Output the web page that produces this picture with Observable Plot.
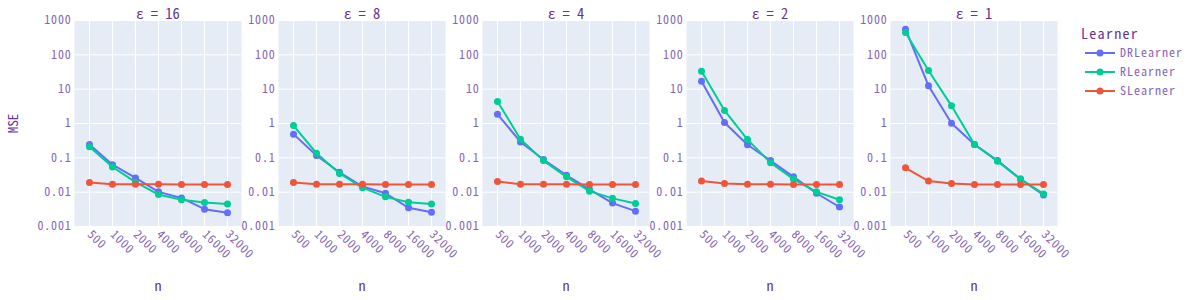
<!DOCTYPE html>
<html>
<head>
<meta charset="utf-8">
<script src="https://cdn.jsdelivr.net/npm/d3@7"></script>
<script src="https://cdn.jsdelivr.net/npm/@observablehq/plot@0.6"></script>
<style>
  html, body { margin: 0; padding: 0; background: #fff; }
  #wrap { position: relative; width: 1200px; height: 300px; }
  #chart { position: absolute; left: 0; top: 0; }
  #wrap svg, #wrap svg text { font-family: "Noto Sans Mono CJK SC", "Noto Sans Mono", "Liberation Mono", "DejaVu Sans Mono", "Courier New", monospace !important; }
  #legend { position: absolute; left: 1078px; top: 20px; }
</style>
</head>
<body>
<div id="wrap">
  <div id="chart"></div>
  <svg id="legend" width="122" height="84"></svg>
</div>
<script>
const ns = [500, 1000, 2000, 4000, 8000, 16000, 32000];
const epsilons = [16, 8, 4, 2, 1];
const learners = ["DRLearner", "RLearner", "SLearner"];
const colors = ["#636efa", "#00cc96", "#ef553b"];
const yTicks = [0.001, 0.01, 0.1, 1, 10, 100, 1000];

// MSE per epsilon (rows: 16, 8, 4, 2, 1), columns follow ns
const drMSE = [
  [0.245, 0.063, 0.026, 0.0102, 0.0068, 0.0032, 0.0025],
  [0.49, 0.117, 0.038, 0.0146, 0.0093, 0.0035, 0.0026],
  [1.86, 0.29, 0.089, 0.031, 0.012, 0.0048, 0.0028],
  [17, 1.07, 0.24, 0.083, 0.028, 0.0093, 0.0037],
  [560, 12.5, 1.02, 0.245, 0.083, 0.024, 0.0083]
];
const rMSE = [
  [0.21, 0.054, 0.0195, 0.0085, 0.006, 0.005, 0.0045],
  [0.87, 0.136, 0.035, 0.0135, 0.0073, 0.0051, 0.0045],
  [4.4, 0.35, 0.083, 0.028, 0.0107, 0.0066, 0.0047],
  [33, 2.4, 0.34, 0.072, 0.024, 0.0102, 0.006],
  [447, 35, 3.27, 0.245, 0.08, 0.024, 0.0089]
];
const sMSE = [
  [0.019, 0.017, 0.017, 0.017, 0.0167, 0.0167, 0.0166],
  [0.019, 0.017, 0.017, 0.017, 0.0167, 0.0167, 0.0166],
  [0.0205, 0.017, 0.017, 0.017, 0.0167, 0.0167, 0.0166],
  [0.021, 0.018, 0.017, 0.017, 0.0167, 0.0167, 0.0166],
  [0.051, 0.021, 0.018, 0.0166, 0.0166, 0.0166, 0.0166]
];
const seriesByLearner = [drMSE, rMSE, sMSE];

const rows = [];
learners.forEach((learner, li) => {
  epsilons.forEach((eps, ei) => {
    ns.forEach((n, ni) => {
      rows.push({learner, eps, n, mse: seriesByLearner[li][ei][ni]});
    });
  });
});

const textColor = "#663399";
const tickColor = "#8566b8";

const marks = [
  Plot.frame({fill: "#e5ecf6", stroke: null}),
  Plot.gridY(yTicks, {stroke: "#fff", strokeOpacity: 1, strokeWidth: 1}),
  Plot.gridX(ns, {stroke: "#fff", strokeOpacity: 1, strokeWidth: 1}),
  Plot.axisY({ticks: yTicks, tickFormat: d => String(d), tickSize: 0, tickPadding: 3, label: null, facetAnchor: null, fontSize: 12, fill: tickColor}),
  Plot.axisX({tickRotate: 45, tickSize: 0, tickPadding: 6, tickFormat: d => String(d), label: null, fontSize: 12, fill: tickColor}),
  Plot.text(epsilons, {fx: d => d, text: d => `ε = ${d}`, frameAnchor: "top", lineAnchor: "middle", dy: -6.5, fontSize: 14.5, fill: textColor, ariaLabel: "facet-title"}),
  Plot.text(epsilons, {fx: d => d, text: () => "n", frameAnchor: "bottom", lineAnchor: "middle", dy: 60, fontSize: 14, fill: textColor, ariaLabel: "x-title"}),
  Plot.text([epsilons[0]], {fx: d => d, text: () => "MSE", frameAnchor: "left", textAnchor: "middle", lineAnchor: "middle", dx: -61, rotate: -90, fontSize: 13, fill: textColor, ariaLabel: "y-title"})
];
learners.forEach((learner) => {
  const d = rows.filter(r => r.learner === learner);
  marks.push(Plot.line(d, {x: "n", y: "mse", fx: "eps", stroke: "learner", strokeWidth: 2}));
  marks.push(Plot.dot(d, {x: "n", y: "mse", fx: "eps", fill: "learner", r: 3.5}));
});

const chart = Plot.plot({
  width: 1200,
  height: 300,
  marginTop: 20,
  marginBottom: 74,
  marginLeft: 72,
  marginRight: 140,
  style: {background: "transparent"},
  fx: {domain: epsilons, paddingInner: 0.18, paddingOuter: 0, axis: null},
  x: {type: "point", domain: ns, padding: 0.5},
  y: {type: "log", domain: [0.001, 1000]},
  color: {domain: learners, range: colors},
  marks
});
document.getElementById("chart").appendChild(chart);

const sel = d3.select(chart);
sel.selectAll('g[aria-label="y-axis tick label"] text, g[aria-label="x-axis tick label"] text').style("letter-spacing", "0.8px");
sel.selectAll('g[aria-label="facet-title"] text').style("letter-spacing", "1.8px");
sel.selectAll('g[aria-label="x-title"] text').style("letter-spacing", "1px");
sel.selectAll('g[aria-label="y-title"] text').style("letter-spacing", "1.4px");

// Legend
const lg = d3.select("#legend");
lg.append("text").attr("x", 3).attr("y", 14).attr("dy", "0.35em")
  .attr("fill", textColor).style("font-size", "14px").style("letter-spacing", "1.3px").text("Learner");
learners.forEach((learner, i) => {
  const cy = 33 + i * 19;
  const g = lg.append("g");
  g.append("line").attr("x1", 7).attr("x2", 37).attr("y1", cy).attr("y2", cy).attr("stroke", colors[i]).attr("stroke-width", 2);
  g.append("circle").attr("cx", 22).attr("cy", cy).attr("r", 3.5).attr("fill", colors[i]);
  g.append("text").attr("x", 42).attr("y", cy).attr("dy", "0.35em").attr("fill", tickColor)
    .style("font-size", "12px").style("letter-spacing", "1px").text(learner);
});
</script>
</body>
</html>
